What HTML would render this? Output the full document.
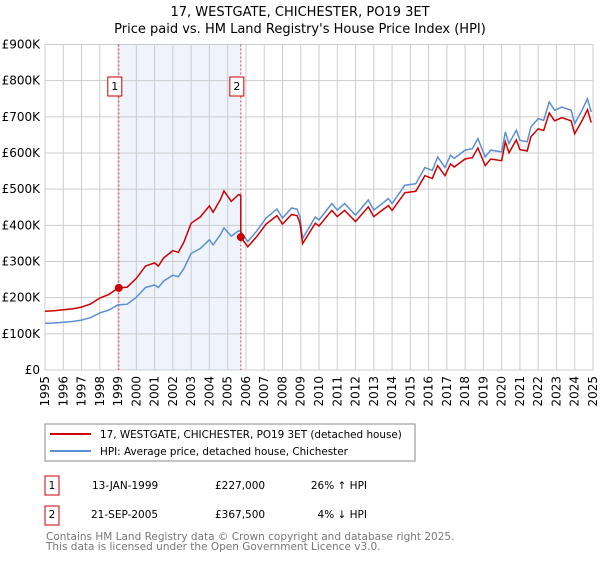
<!DOCTYPE html>
<html><head><meta charset="utf-8"><style>
body{margin:0;background:#fff;font-family:"DejaVu Sans","Liberation Sans",sans-serif;}
svg text{font-family:"DejaVu Sans","Liberation Sans",sans-serif;}
</style></head><body>
<svg id="c" width="600" height="560" xmlns="http://www.w3.org/2000/svg">
<text x="300" y="16" text-anchor="middle" font-size="13">17, WESTGATE, CHICHESTER, PO19 3ET</text>
<text x="300" y="33" text-anchor="middle" font-size="13">Price paid vs. HM Land Registry's House Price Index (HPI)</text>
<g id="plot"></g>
<rect x="45" y="424" width="370" height="37" fill="#fff" stroke="#888"/>
<line x1="50" y1="434" x2="91" y2="434" stroke="#cc0000" stroke-width="2"/>
<text x="100" y="438" font-size="10.4">17, WESTGATE, CHICHESTER, PO19 3ET (detached house)</text>
<line x1="50" y1="451" x2="91" y2="451" stroke="#5b8fd4" stroke-width="2"/>
<text x="100" y="455" font-size="10.4">HPI: Average price, detached house, Chichester</text>
<g font-size="10.5">
<rect x="45" y="476" width="14" height="19" fill="#fff" stroke="#cc0000"/>
<text x="52" y="489" text-anchor="middle">1</text>
<text x="92" y="489">13-JAN-1999</text>
<text x="215" y="489">£227,000</text>
<text x="367" y="489" text-anchor="end">26% ↑ HPI</text>
<rect x="45" y="506" width="14" height="19" fill="#fff" stroke="#cc0000"/>
<text x="52" y="518" text-anchor="middle">2</text>
<text x="91" y="518">21-SEP-2005</text>
<text x="215" y="518">£367,500</text>
<text x="367" y="518" text-anchor="end">4% ↓ HPI</text>
</g>
<text x="46" y="540" font-size="10.5" fill="#777">Contains HM Land Registry data © Crown copyright and database right 2025.</text>
<text x="46" y="550" font-size="10.5" fill="#777">This data is licensed under the Open Government Licence v3.0.</text>
</svg>
<script>
const yTicks=[0,100000,200000,300000,400000,500000,600000,700000,800000,900000];
const yTickLabels=["£0","£100K","£200K","£300K","£400K","£500K","£600K","£700K","£800K","£900K"];
const years=[1995,1996,1997,1998,1999,2000,2001,2002,2003,2004,2005,2006,2007,2008,2009,2010,2011,2012,2013,2014,2015,2016,2017,2018,2019,2020,2021,2022,2023,2024,2025];
const hpiDates=[1995.0,1995.5,1996.0,1996.5,1997.0,1997.5,1998.0,1998.5,1999.0,1999.5,2000.0,2000.5,2001.0,2001.2,2001.5,2002.0,2002.3,2002.6,2003.0,2003.5,2004.0,2004.2,2004.6,2004.8,2005.2,2005.6,2005.72,2006.1,2006.6,2007.1,2007.7,2008.0,2008.5,2008.8,2008.96,2009.1,2009.8,2010.0,2010.7,2011.0,2011.4,2012.0,2012.7,2013.0,2013.8,2014.0,2014.7,2015.3,2015.8,2016.2,2016.5,2016.9,2017.2,2017.4,2018.0,2018.4,2018.7,2019.1,2019.4,2020.0,2020.2,2020.4,2020.8,2021.0,2021.4,2021.6,2022.0,2022.3,2022.6,2022.9,2023.3,2023.8,2024.0,2024.4,2024.7,2024.9];
const hpiValues=[129000,130000,132000,134000,138000,145000,158000,166000,180000,182000,201000,228000,235000,228000,246000,262000,258000,280000,322000,336000,360000,346000,374000,393000,370000,385000,383000,355000,385000,420000,445000,420000,448000,445000,423000,364000,423000,415000,460000,442000,460000,428000,470000,442000,474000,460000,511000,515000,560000,552000,589000,560000,594000,585000,608000,612000,640000,589000,608000,603000,658000,626000,663000,635000,631000,672000,695000,690000,741000,718000,727000,718000,681000,718000,750000,713000];
const saleDates=[1999.04,2005.72];
const salePrices=[227000,367500];
const saleLabels=["1","2"];

const X0=45,X1=593,Y0=370,Y1=44.5;
const x=d=>X0+(d-1995)/30*(X1-X0);
const y=v=>Y0-v/900000*(Y0-Y1);
const NS="http://www.w3.org/2000/svg";
const g=document.getElementById('plot');
function mk(t,a){const e=document.createElementNS(NS,t);for(const k in a)e.setAttribute(k,a[k]);g.appendChild(e);return e;}
function hpiAt(d){for(let i=1;i<hpiDates.length;i++){if(d<=hpiDates[i]){const t=(d-hpiDates[i-1])/(hpiDates[i]-hpiDates[i-1]);return hpiValues[i-1]+t*(hpiValues[i]-hpiValues[i-1]);}}return hpiValues[hpiValues.length-1];}

let sh=mk('rect',{x:x(saleDates[0]),y:Y1,width:x(saleDates[1])-x(saleDates[0]),height:Y0-Y1,fill:'#eef3fc'});


yTicks.forEach((v,i)=>{
 const l=mk('line',{x1:X0,x2:X1,y1:y(v),y2:y(v),stroke:'#ccc','stroke-width':1});
 
 
 const t=mk('text',{x:40,y:y(v)+4,'text-anchor':'end','font-size':12});
 
 
 t.textContent=yTickLabels[i];
});
years.forEach(yr=>{
 const l=mk('line',{x1:x(yr),x2:x(yr),y1:Y1,y2:Y0,stroke:'#ccc','stroke-width':1});
 
 
 const t=mk('text',{x:0,y:0,'text-anchor':'end','font-size':12,transform:`translate(${x(yr)+4},${Y0+6}) rotate(-90)`});
 
 
 t.textContent=yr;
});
saleDates.forEach((d,i)=>{
 const l=mk('line',{x1:x(d),x2:x(d),y1:Y1,y2:Y0,stroke:'#e33','stroke-width':1,'stroke-dasharray':'2,2'});
 
 
 const r=mk('rect',{x:x(d)-11,y:77,width:14,height:19,fill:'#fff',stroke:'#cc0000'});
 
 
 const t=mk('text',{x:x(d)-4,y:90,'text-anchor':'middle','font-size':11});
 
 
 t.textContent=saleLabels[i];
});
let hp=hpiDates.map((d,i)=>x(d).toFixed(1)+','+y(hpiValues[i]).toFixed(1)).join(' ');
const hl=mk('polyline',{points:hp,fill:'none',stroke:'#5b8fd4','stroke-width':1.5});


const r1=salePrices[0]/hpiAt(saleDates[0]), r2=salePrices[1]/hpiAt(saleDates[1]);
let pp=[];
hpiDates.forEach((d,i)=>{ if(d<saleDates[1]) pp.push([d,hpiValues[i]*r1]); });
pp.push([saleDates[1],hpiAt(saleDates[1])*r1]);
pp.push([saleDates[1],salePrices[1]]);
hpiDates.forEach((d,i)=>{ if(d>saleDates[1]) pp.push([d,hpiValues[i]*r2]); });
const pl=mk('polyline',{points:pp.map(p=>x(p[0]).toFixed(1)+','+y(p[1]).toFixed(1)).join(' '),fill:'none',stroke:'#cc0000','stroke-width':1.5});


saleDates.forEach((d,i)=>{
 const c=mk('circle',{cx:x(d),cy:y(salePrices[i]),r:4,fill:'#cc0000'});
 
 
});
</script>
</body></html>
